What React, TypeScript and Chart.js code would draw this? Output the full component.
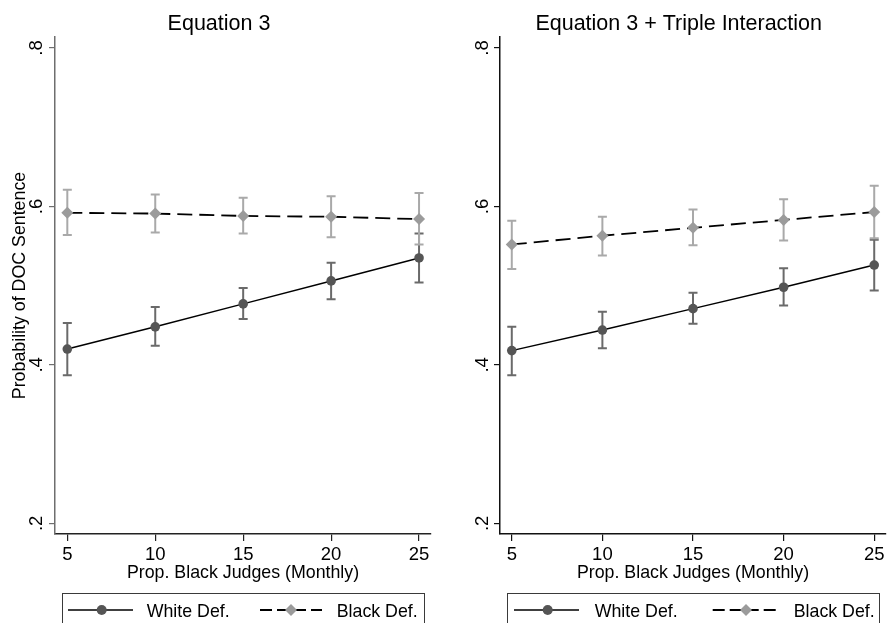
import React, { useEffect, useRef } from "react";
import { Chart, registerables } from "chart.js";

Chart.register(...registerables);

// ---------- data ----------
const xValues = [5, 10, 15, 20, 25];
const xTicks = [5, 10, 15, 20, 25];
const xTickLabels = ["5", "10", "15", "20", "25"];
const yTicks = [0.2, 0.4, 0.6, 0.8];
const yTickLabels = [".2", ".4", ".6", ".8"];

const legendLabels = ["White Def.", "Black Def."];

// Panel 1: Equation 3
const eq3White = [0.42, 0.448, 0.477, 0.506, 0.535];
const eq3WhiteLo = [0.387, 0.424, 0.458, 0.483, 0.504];
const eq3WhiteHi = [0.453, 0.473, 0.497, 0.529, 0.566];
const eq3Black = [0.592, 0.591, 0.588, 0.587, 0.584];
const eq3BlackLo = [0.564, 0.567, 0.566, 0.561, 0.552];
const eq3BlackHi = [0.621, 0.615, 0.611, 0.613, 0.617];

// Panel 2: Equation 3 + Triple Interaction
const triWhite = [0.418, 0.444, 0.471, 0.498, 0.526];
const triWhiteLo = [0.387, 0.421, 0.452, 0.475, 0.494];
const triWhiteHi = [0.448, 0.467, 0.491, 0.522, 0.558];
const triBlack = [0.552, 0.563, 0.573, 0.583, 0.593];
const triBlackLo = [0.521, 0.538, 0.551, 0.557, 0.56];
const triBlackHi = [0.582, 0.587, 0.596, 0.609, 0.626];

// ---------- style ----------
const FONT = '"Liberation Sans", Arial, Helvetica, sans-serif';
const WHITE_MARK = "#555555";
const BLACK_MARK = "#9b9b9b";
const WHITE_ERR = "#6a6a6a";
const BLACK_ERR = "#a9a9a9";
const W = 446;
const H = 623;

type LegendPos = {
  s1: [number, number];
  m1: number;
  t1: number;
  s2: [number, number];
  m2: number;
  t2: number;
};

type PanelCfg = {
  title: string;
  titleX: number;
  white: number[];
  whiteLo: number[];
  whiteHi: number[];
  black: number[];
  blackLo: number[];
  blackHi: number[];
  yTitle: string | null;
  yAxisWidth: number;
  padRight: number;
  xMin: number;
  xMax: number;
  yBorder: string;
  xBorder: string;
  legend: LegendPos;
};

const panels: PanelCfg[] = [
  {
    title: "Equation 3",
    titleX: 219,
    white: eq3White,
    whiteLo: eq3WhiteLo,
    whiteHi: eq3WhiteHi,
    black: eq3Black,
    blackLo: eq3BlackLo,
    blackHi: eq3BlackHi,
    yTitle: "Probability of DOC Sentence",
    yAxisWidth: 55,
    padRight: 15,
    xMin: 4.3,
    xMax: 25.68,
    yBorder: "#6e6e6e",
    xBorder: "#222222",
    legend: { s1: [6, 71], m1: 39.7, t1: 84.7, s2: [198, 260], m2: 229, t2: 274.7 },
  },
  {
    title: "Equation 3 + Triple Interaction",
    titleX: 232.7,
    white: triWhite,
    whiteLo: triWhiteLo,
    whiteHi: triWhiteHi,
    black: triBlack,
    blackLo: triBlackLo,
    blackHi: triBlackHi,
    yTitle: null,
    yAxisWidth: 54,
    padRight: 1,
    xMin: 4.35,
    xMax: 25.65,
    yBorder: "#111111",
    xBorder: "#111111",
    legend: { s1: [7, 72], m1: 40.7, t1: 87.7, s2: [205.7, 272], m2: 239, t2: 286.7 },
  },
];

function drawDiamond(ctx: CanvasRenderingContext2D, x: number, y: number, r: number) {
  ctx.beginPath();
  ctx.moveTo(x - r, y);
  ctx.lineTo(x, y - r);
  ctx.lineTo(x + r, y);
  ctx.lineTo(x, y + r);
  ctx.closePath();
  ctx.fill();
}

function makePlugin(cfg: PanelCfg) {
  return {
    id: "stataDecor",
    beforeDatasetsDraw(chart: any) {
      const { ctx } = chart;
      const x = chart.scales.x;
      const y = chart.scales.y;
      const sets: [number[], number[], string][] = [
        [cfg.whiteLo, cfg.whiteHi, WHITE_ERR],
        [cfg.blackLo, cfg.blackHi, BLACK_ERR],
      ];
      ctx.save();
      ctx.lineWidth = 2;
      ctx.lineCap = "butt";
      sets.forEach(([lo, hi, color]) => {
        ctx.strokeStyle = color;
        xValues.forEach((xv, i) => {
          const px = x.getPixelForValue(xv);
          const pl = y.getPixelForValue(lo[i]);
          const ph = y.getPixelForValue(hi[i]);
          ctx.beginPath();
          ctx.moveTo(px, pl);
          ctx.lineTo(px, ph);
          ctx.moveTo(px - 4.5, pl);
          ctx.lineTo(px + 4.5, pl);
          ctx.moveTo(px - 4.5, ph);
          ctx.lineTo(px + 4.5, ph);
          ctx.stroke();
        });
      });
      ctx.restore();
    },
    afterDraw(chart: any) {
      const { ctx, chartArea } = chart;
      const x = chart.scales.x;
      const y = chart.scales.y;
      ctx.save();
      ctx.fillStyle = "#000";
      ctx.textBaseline = "alphabetic";

      // title
      ctx.font = `21.5px ${FONT}`;
      ctx.textAlign = "center";
      ctx.fillText(cfg.title, cfg.titleX, 29.5);

      // x tick labels
      ctx.font = `18.5px ${FONT}`;
      xTicks.forEach((v, i) => {
        ctx.fillText(xTickLabels[i], x.getPixelForValue(v), 560);
      });

      // x title
      ctx.font = `17.8px ${FONT}`;
      ctx.fillText("Prop. Black Judges (Monthly)", (chartArea.left + chartArea.right) / 2, 578);

      // y tick labels (rotated)
      ctx.font = `18.5px ${FONT}`;
      yTicks.forEach((v, i) => {
        const py = y.getPixelForValue(v);
        ctx.save();
        ctx.translate(42, py);
        ctx.rotate(-Math.PI / 2);
        ctx.textAlign = "center";
        ctx.fillText(yTickLabels[i], 0, 0);
        ctx.restore();
      });

      // y title
      if (cfg.yTitle) {
        ctx.save();
        ctx.font = `17.8px ${FONT}`;
        ctx.translate(25, (chartArea.top + chartArea.bottom) / 2);
        ctx.rotate(-Math.PI / 2);
        ctx.textAlign = "center";
        ctx.fillText(cfg.yTitle, 0, 0);
        ctx.restore();
      }

      // legend
      const bl = chartArea.left + 7;
      const br = chartArea.right - 7;
      ctx.strokeStyle = "#3a3a3a";
      ctx.lineWidth = 1;
      ctx.strokeRect(bl + 0.5, 593.5, br - bl, 60);
      const ly = 610;
      const L = cfg.legend;
      // white sample
      ctx.strokeStyle = "#000";
      ctx.lineWidth = 1.5;
      ctx.beginPath();
      ctx.moveTo(bl + L.s1[0], ly);
      ctx.lineTo(bl + L.s1[1], ly);
      ctx.stroke();
      ctx.fillStyle = WHITE_MARK;
      ctx.beginPath();
      ctx.arc(bl + L.m1, ly, 5, 0, Math.PI * 2);
      ctx.fill();
      // black sample
      ctx.strokeStyle = "#000";
      ctx.lineWidth = 1.8;
      ctx.setLineDash([12, 5]);
      ctx.beginPath();
      ctx.moveTo(bl + L.s2[0], ly);
      ctx.lineTo(bl + L.s2[1], ly);
      ctx.stroke();
      ctx.setLineDash([]);
      ctx.fillStyle = BLACK_MARK;
      drawDiamond(ctx, bl + L.m2, ly, 6);
      // texts
      ctx.fillStyle = "#000";
      ctx.font = `17.8px ${FONT}`;
      ctx.textAlign = "left";
      ctx.fillText(legendLabels[0], bl + L.t1, 616.5);
      ctx.fillText(legendLabels[1], bl + L.t2, 616.5);
      ctx.restore();
    },
  };
}

function Panel({ cfg }: { cfg: PanelCfg }) {
  const ref = useRef<HTMLCanvasElement | null>(null);
  useEffect(() => {
    if (!ref.current) return;
    const toPts = (arr: number[]) => xValues.map((xv, i) => ({ x: xv, y: arr[i] }));
    const chart = new Chart(ref.current, {
      type: "line",
      data: {
        datasets: [
          {
            label: legendLabels[0],
            data: toPts(cfg.white),
            borderColor: "#000",
            borderWidth: 1.5,
            pointStyle: "circle",
            pointRadius: 4.8,
            pointBackgroundColor: WHITE_MARK,
            pointBorderWidth: 0,
            tension: 0,
            fill: false,
          },
          {
            label: legendLabels[1],
            data: toPts(cfg.black),
            borderColor: "#000",
            borderWidth: 1.8,
            borderDash: [15, 7],
            pointStyle: "rectRot",
            pointRadius: 6,
            pointBackgroundColor: BLACK_MARK,
            pointBorderWidth: 0,
            tension: 0,
            fill: false,
          },
        ],
      },
      options: {
        responsive: false,
        animation: false,
        events: [],
        layout: { padding: { top: 37, right: cfg.padRight, bottom: 0, left: 0 } },
        plugins: {
          legend: { display: false },
          tooltip: { enabled: false },
          title: { display: false },
        },
        scales: {
          x: {
            type: "linear",
            min: cfg.xMin,
            max: cfg.xMax,
            afterBuildTicks: (s: any) => {
              s.ticks = xTicks.map((v) => ({ value: v }));
            },
            afterFit: (s: any) => {
              s.height = 89;
            },
            ticks: { display: false },
            grid: {
              display: true,
              drawOnChartArea: false,
              drawTicks: true,
              tickLength: 7,
              color: cfg.xBorder,
              lineWidth: 1.2,
            },
            border: { display: true, color: cfg.xBorder, width: 1.5 },
          },
          y: {
            type: "linear",
            min: 0.1865,
            max: 0.8139,
            afterBuildTicks: (s: any) => {
              s.ticks = yTicks.map((v) => ({ value: v }));
            },
            afterFit: (s: any) => {
              s.width = cfg.yAxisWidth;
            },
            ticks: { display: false },
            grid: {
              display: true,
              drawOnChartArea: false,
              drawTicks: true,
              tickLength: 6,
              color: cfg.yBorder,
              lineWidth: 1.2,
            },
            border: { display: true, color: cfg.yBorder, width: 1.5 },
          },
        },
      },
      plugins: [makePlugin(cfg)],
    } as any);
    return () => chart.destroy();
  }, [cfg]);
  return <canvas ref={ref} width={W} height={H} style={{ display: "block", width: W, height: H }} />;
}

export default function App() {
  return (
    <div
      style={{
        position: "absolute",
        left: 0,
        top: 0,
        width: 892,
        height: 623,
        display: "flex",
        background: "#fff",
        overflow: "hidden",
      }}
    >
      {panels.map((p) => (
        <Panel key={p.title} cfg={p} />
      ))}
    </div>
  );
}
